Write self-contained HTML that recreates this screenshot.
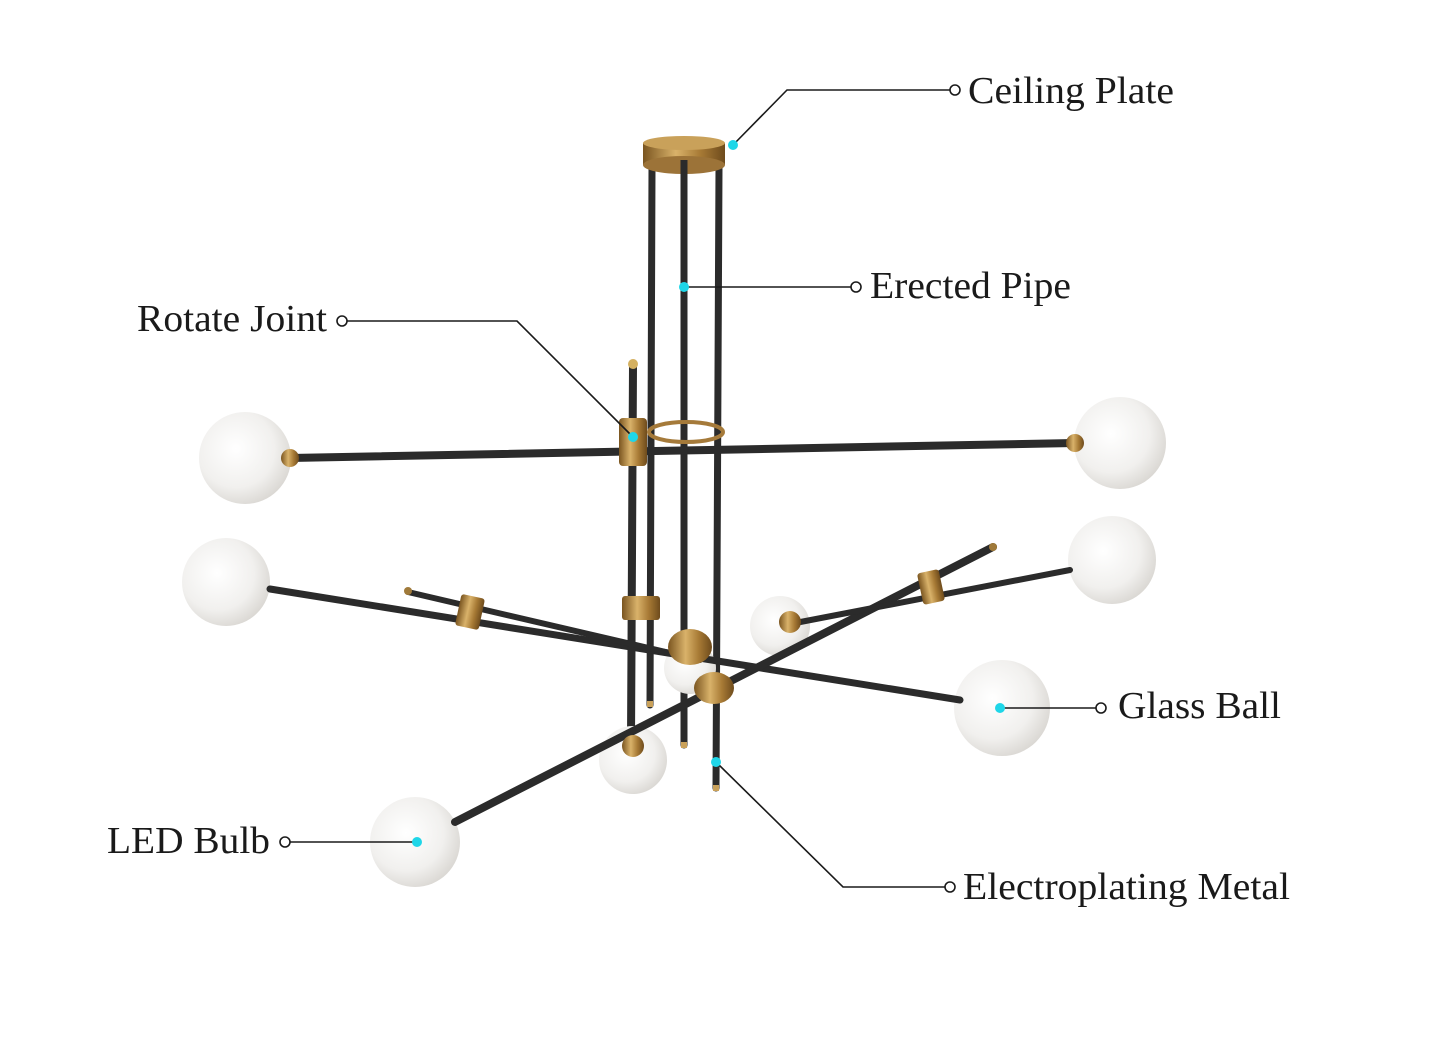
<!DOCTYPE html>
<html><head><meta charset="utf-8"><style>
html,body{margin:0;padding:0;background:#fff;}
svg{display:block}
text{font-family:"Liberation Serif",serif;font-size:38px;fill:#1a1a1a;}
</style></head><body>
<svg width="1445" height="1057" viewBox="0 0 1445 1057" xmlns="http://www.w3.org/2000/svg">
<defs>
<radialGradient id="ball" cx="0.4" cy="0.4" r="0.7">
<stop offset="0" stop-color="#ffffff"/><stop offset="0.6" stop-color="#f1f0ee"/><stop offset="1" stop-color="#d4d1cc"/>
</radialGradient>
<linearGradient id="brass" x1="0" x2="1">
<stop offset="0" stop-color="#7a5520"/><stop offset="0.4" stop-color="#d9b26a"/><stop offset="0.7" stop-color="#a77a35"/><stop offset="1" stop-color="#6e4b1c"/>
</linearGradient>
</defs>
<g stroke="#2b2b2b" stroke-linecap="round" fill="none">
<line x1="652" y1="168" x2="650" y2="705" stroke-width="7"/>
<line x1="684" y1="168" x2="684" y2="745" stroke-width="7"/>
<line x1="719" y1="168" x2="716" y2="788" stroke-width="7"/>
<line x1="633" y1="366" x2="631" y2="740" stroke-width="8"/>
</g>
<rect x="643" y="143" width="82" height="22" fill="url(#brass)"/>
<ellipse cx="684" cy="165" rx="41" ry="9" fill="#9c7338"/>
<ellipse cx="684" cy="143" rx="41" ry="7" fill="#c9a15a"/>
<line x1="684" y1="160" x2="684" y2="175" stroke="#2b2b2b" stroke-width="7"/>
<ellipse cx="686" cy="432" rx="37" ry="10" fill="none" stroke="#a57a3a" stroke-width="4"/>
<circle cx="245" cy="458" r="46" fill="url(#ball)"/>
<circle cx="1120" cy="443" r="46" fill="url(#ball)"/>
<circle cx="226" cy="582" r="44" fill="url(#ball)"/>
<circle cx="1112" cy="560" r="44" fill="url(#ball)"/>
<circle cx="780" cy="626" r="30" fill="url(#ball)"/>
<circle cx="690" cy="668" r="26" fill="url(#ball)"/>
<circle cx="633" cy="760" r="34" fill="url(#ball)"/>
<circle cx="1002" cy="708" r="48" fill="url(#ball)"/>
<circle cx="415" cy="842" r="45" fill="url(#ball)"/>
<g stroke="#2b2b2b" stroke-linecap="round" fill="none">
<line x1="290" y1="458" x2="1075" y2="443" stroke-width="8"/>
<line x1="270" y1="589" x2="960" y2="700" stroke-width="7"/>
<line x1="408" y1="592" x2="700" y2="660" stroke-width="6"/>
<line x1="455" y1="822" x2="993" y2="547" stroke-width="8"/>
<line x1="790" y1="624" x2="1070" y2="570" stroke-width="6"/>
</g>
<circle cx="290" cy="458" r="9" fill="url(#brass)"/>
<circle cx="1075" cy="443" r="9" fill="url(#brass)"/>
<circle cx="790" cy="622" r="11" fill="url(#brass)"/>
<circle cx="633" cy="746" r="11" fill="url(#brass)"/>
<circle cx="633" cy="364" r="5" fill="#d4b060"/>
<circle cx="408" cy="591" r="4" fill="#a07a3a"/>
<circle cx="993" cy="547" r="4" fill="#a07a3a"/>
<rect x="619" y="418" width="28" height="48" rx="4" fill="url(#brass)"/>
<rect x="622" y="596" width="38" height="24" rx="3" fill="url(#brass)"/>
<rect x="458" y="596" width="24" height="32" rx="3" fill="url(#brass)" transform="rotate(12 470 612)"/>
<rect x="920" y="571" width="22" height="32" rx="3" fill="url(#brass)" transform="rotate(-12 931 587)"/>
<ellipse cx="690" cy="647" rx="22" ry="18" fill="url(#brass)"/>
<ellipse cx="714" cy="688" rx="20" ry="16" fill="url(#brass)"/>
<rect x="647" y="701" width="6" height="6" fill="#c9a15a"/>
<rect x="681" y="742" width="6" height="6" fill="#c9a15a"/>
<rect x="713" y="785" width="6" height="6" fill="#c9a15a"/>
<g stroke="#1a1a1a" stroke-width="1.6" fill="none">
<polyline points="950,90 787,90 733,145"/>
<line x1="851" y1="287" x2="684" y2="287"/>
<polyline points="347,321 517,321 633,437"/>
<line x1="1096" y1="708" x2="1000" y2="708"/>
<line x1="290" y1="842" x2="417" y2="842"/>
<polyline points="945,887 843,887 716,762"/>
<circle cx="955" cy="90" r="5" fill="#fff"/>
<circle cx="856" cy="287" r="5" fill="#fff"/>
<circle cx="342" cy="321" r="5" fill="#fff"/>
<circle cx="1101" cy="708" r="5" fill="#fff"/>
<circle cx="285" cy="842" r="5" fill="#fff"/>
<circle cx="950" cy="887" r="5" fill="#fff"/>
</g>
<g fill="#1fd6e8">
<circle cx="733" cy="145" r="5"/><circle cx="684" cy="287" r="5"/><circle cx="633" cy="437" r="5"/>
<circle cx="1000" cy="708" r="5"/><circle cx="417" cy="842" r="5"/><circle cx="716" cy="762" r="5"/>
</g>
<text x="968" y="103" textLength="206" lengthAdjust="spacingAndGlyphs">Ceiling Plate</text>
<text x="870" y="298" textLength="201" lengthAdjust="spacingAndGlyphs">Erected Pipe</text>
<text x="137" y="331" textLength="190" lengthAdjust="spacingAndGlyphs">Rotate Joint</text>
<text x="1118" y="718" textLength="163" lengthAdjust="spacingAndGlyphs">Glass Ball</text>
<text x="107" y="853" textLength="163" lengthAdjust="spacingAndGlyphs">LED Bulb</text>
<text x="963" y="899" textLength="327" lengthAdjust="spacingAndGlyphs">Electroplating Metal</text>
</svg>
</body></html>
